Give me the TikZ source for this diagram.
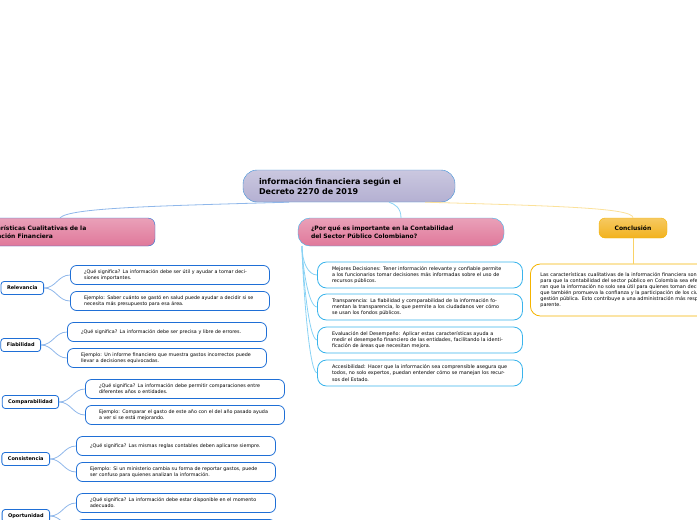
\documentclass[tikz,border=0pt]{standalone}
\usepackage{fontspec}
\setmainfont{DejaVu Sans}
\usetikzlibrary{positioning,calc}
\definecolor{rootfill}{HTML}{B4B0D2}
\definecolor{rootline}{HTML}{3A8FD8}
\definecolor{pinkfill}{HTML}{E0789A}
\definecolor{blueline}{HTML}{1F6FD6}
\definecolor{cyanline}{HTML}{3AB4EC}
\definecolor{orangefill}{HTML}{F2B21E}
\definecolor{orangeline}{HTML}{F5B400}
\begin{document}
\begin{tikzpicture}[x=1pt,y=-1pt,
    root/.style={rectangle, rounded corners=14pt, draw=rootline, top color=rootfill!70, bottom color=rootfill, minimum width=212pt, minimum height=32pt, font=\fontsize{8}{10}\selectfont\bfseries, align=left, text width=180pt},
    topic/.style={rectangle, rounded corners=7pt, draw=blueline, top color=pinkfill!70, bottom color=pinkfill, minimum height=28pt, font=\fontsize{6}{7.5}\selectfont\bfseries, align=left},
    concl/.style={rectangle, rounded corners=6pt, draw=orangeline, top color=orangefill!70, bottom color=orangefill, minimum width=68pt, minimum height=20pt, font=\fontsize{6}{7}\selectfont\bfseries},
    item/.style={rectangle, rounded corners=6pt, draw=blueline, thick, fill=white, minimum width=199pt, minimum height=19pt, font=\fontsize{4.8}{5.8}\selectfont, align=left, text width=172pt},
    why/.style={rectangle, rounded corners=9pt, draw=cyanline, thick, fill=white, minimum width=205pt, minimum height=26pt, font=\fontsize{4.9}{6.3}\selectfont, align=left, text width=176pt},
    label/.style={rectangle, rounded corners=3pt, draw=blueline, thick, fill=white, minimum height=13pt, inner xsep=6pt, font=\fontsize{5}{6}\selectfont\bfseries, anchor=east},
    link/.style={draw=#1, line width=0.8pt}
]
    \useasboundingbox (0,0) rectangle (697,520);

    % Central topic
    \node[root] (root) at (349,186) {información financiera según el\\Decreto 2270 de 2019};

    % Main branches
    \node[topic, minimum width=190pt, text width=170pt] (cual) at (60,232) {Características Cualitativas de la\\Información Financiera};
    \node[topic, minimum width=206pt, text width=180pt, rounded corners=12pt, draw=cyanline] (porque) at (401,232) {¿Por qué es importante en la Contabilidad\\del Sector Público Colombiano?};
    \node[concl] (concl) at (633,228) {Conclusión};

    \draw[link=blueline!50] ($(root.south)+(-60,0)$) .. controls (150,206) and (70,208) .. (cual.north);
    \draw[link=cyanline!60] ($(root.south)+(40,0)$) .. controls (395,204) and (401,208) .. (porque.north);
    \draw[link=orangeline!40] ($(root.south east)+(-30,0)$) .. controls (560,206) and (633,208) .. (concl.north);

    % Conclusion text
    \node[rectangle, rounded corners=10pt, draw=orangeline, thick, fill=white, minimum width=220pt, minimum height=52pt, font=\fontsize{4.9}{6}\selectfont, align=left, text width=200pt, anchor=west] (concltxt) at (530,290) {Las características cualitativas de la información financiera son fundamentales para que la contabilidad del sector público en Colombia sea efectiva. Aseguran que la información no solo sea útil para quienes toman decisiones, sino que también promueva la confianza y la participación de los ciudadanos en la gestión pública. Esto contribuye a una administración más responsable y transparente.};
    \draw[link=orangeline!60] (concl.south) -- (concltxt.north -| concl.south);

    % Why branch
    \node[why] (w1) at (420,275) {Mejores Decisiones: Tener información relevante y confiable permite a los funcionarios tomar decisiones más informadas sobre el uso de recursos públicos.};
    \node[why] (w2) at (420,307) {Transparencia: La fiabilidad y comparabilidad de la información fomentan la transparencia, lo que permite a los ciudadanos ver cómo se usan los fondos públicos.};
    \node[why] (w3) at (420,340) {Evaluación del Desempeño: Aplicar estas características ayuda a medir el desempeño financiero de las entidades, facilitando la identificación de áreas que necesitan mejora.};
    \node[why] (w4) at (420,373) {Accesibilidad: Hacer que la información sea comprensible asegura que todos, no solo expertos, puedan entender cómo se manejan los recursos del Estado.};
    \coordinate (wtop) at (302,246);
    \foreach \w in {w1,w2,w3,w4}
        \draw[link=cyanline!60] (wtop) .. controls (302,262) and ($(wtop |- \w.west)+(6,0)$) .. (\w.west);

    % Qualitative characteristics
    \foreach \name/\x/\y/\bx/\ta/\tb in {
        Relevancia/44/288/170/{¿Qué significa? La información debe ser útil y ayudar a tomar decisiones importantes.}/{Ejemplo: Saber cuánto se gastó en salud puede ayudar a decidir si se necesita más presupuesto para esa área.},
        Fiabilidad/41/345/167/{¿Qué significa? La información debe ser precisa y libre de errores.}/{Ejemplo: Un informe financiero que muestra gastos incorrectos puede llevar a decisiones equivocadas.},
        Comparabilidad/59/402/185/{¿Qué significa? La información debe permitir comparaciones entre diferentes años o entidades.}/{Ejemplo: Comparar el gasto de este año con el del año pasado ayuda a ver si se está mejorando.},
        Consistencia/50/459/176/{¿Qué significa? Las mismas reglas contables deben aplicarse siempre.}/{Ejemplo: Si un ministerio cambia su forma de reportar gastos, puede ser confuso para quienes analizan la información.},
        Oportunidad/50/516/176/{¿Qué significa? La información debe estar disponible en el momento adecuado.}/{}} {
        \node[label] (\name) at (\x,\y) {\name};
        \node[item] (\name-a) at (\bx,\y-13) {\ta};
        \node[item] (\name-b) at (\bx,\y+13) {\tb};
        \draw[link=blueline!50] (\name.east) .. controls (\x+12,\y) and (\x+14,\y-13) .. (\name-a.west);
        \draw[link=blueline!50] (\name.east) .. controls (\x+12,\y) and (\x+14,\y+13) .. (\name-b.west);
    }
\end{tikzpicture}
\end{document}
